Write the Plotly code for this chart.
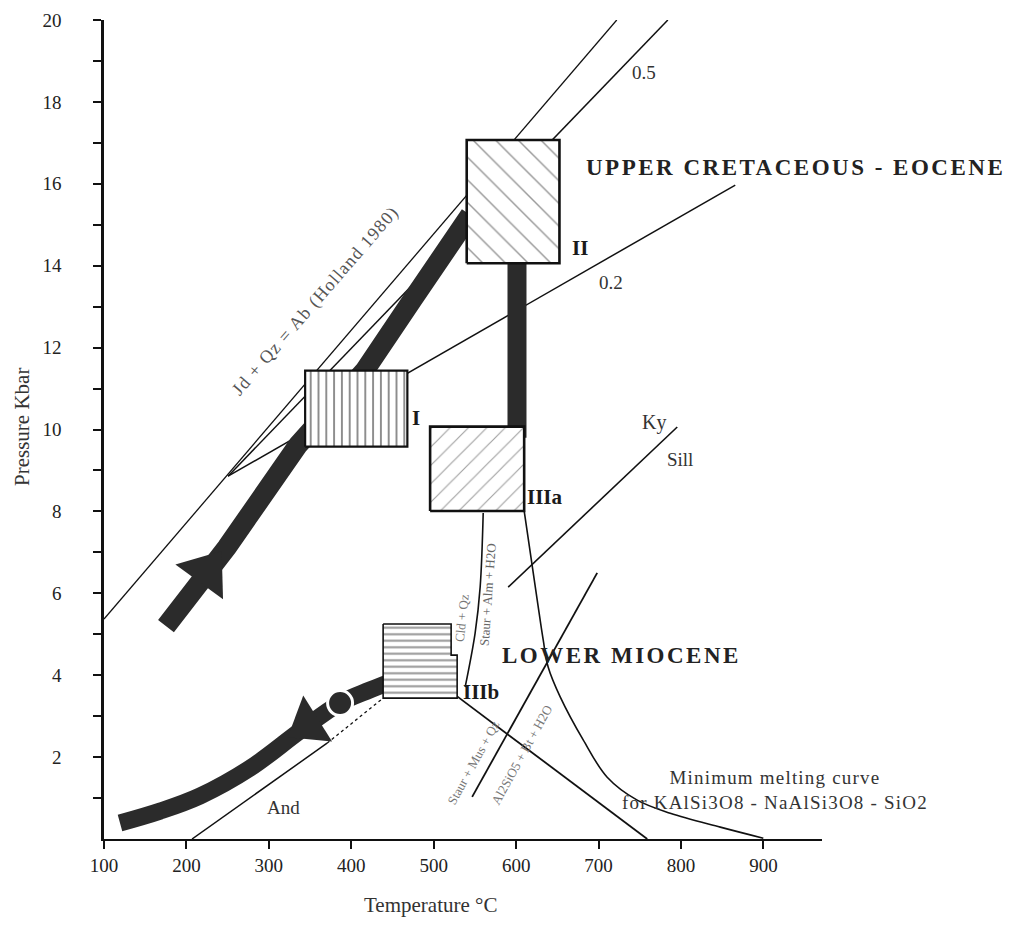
import plotly.graph_objects as go

# ---------------- axis values ----------------
x_tick_vals = [100, 200, 300, 400, 500, 600, 700, 800, 900]
x_tick_text = ["100", "200", "300", "400", "500", "600", "700", "800", "900"]
y_tick_vals = [2, 4, 6, 8, 10, 12, 14, 16, 18, 20]
y_tick_text = ["2", "4", "6", "8", "10", "12", "14", "16", "18", "20"]
y_minor_vals = [1, 3, 5, 7, 9, 11, 13, 15, 17, 19]

# ---------------- reaction / isopleth lines (T degC, P kbar) ----------------
jd_T = [100, 722]
jd_P = [5.37, 20.0]
iso05_T = [250.5, 784]
iso05_P = [8.86, 20.0]
iso02_T = [250.5, 865.8]
iso02_P = [8.86, 15.97]
kysill_T = [590.3, 795.4]
kysill_P = [6.15, 10.06]
andky_T = [206.8, 370.6]
andky_P = [0.0, 2.34]
andky_dot_T = [370.6, 438.6]
andky_dot_P = [2.34, 3.44]
andsill_T = [526.0, 759.0]
andsill_P = [3.52, 0.0]
stout_T = [546.6, 698.3]
stout_P = [1.03, 6.50]
cld_T = [560.0, 556.3, 550.2, 538.1]
cld_P = [7.96, 6.15, 5.03, 3.71]
melt_T = [609.7, 625.5, 632.8, 638.8, 653.4, 681.3, 710.4, 746.8, 786.9, 847.6, 899.8]
melt_P = [8.01, 5.84, 4.86, 4.20, 3.47, 2.42, 1.51, 0.95, 0.63, 0.29, 0.02]

# ---------------- P-T paths ----------------
path_up_T = [175.2, 249.3, 335.4, 416.7, 473.8, 544.2]
path_up_P = [5.20, 7.13, 9.62, 11.45, 13.16, 15.24]
path_decomp_T = [601, 601]
path_decomp_P = [14.5, 9.8]
path_low_T = [459.2, 422.8, 386.4, 337.9, 277.2, 216.5, 168.0, 119.4]
path_low_P = [3.93, 3.64, 3.32, 2.64, 1.73, 1.05, 0.68, 0.39]
arrow_T = [224.6, 347.1]
arrow_P = [6.53, 2.79]
arrow_angle = [36, -122]
dot_T = [386.4]
dot_P = [3.32]

# ---------------- boxes ----------------
boxI_T = [344, 468]
boxI_P = [9.58, 11.44]
boxII_T = [540, 652.5]
boxII_P = [14.06, 17.07]
boxIIIa_T = [495.6, 609.7]
boxIIIa_P = [8.01, 10.07]
boxIIIb_T = [438.6, 521.1, 521.1, 528.4, 528.4, 438.6, 438.6]
boxIIIb_P = [5.25, 5.25, 4.49, 4.49, 3.44, 3.44, 5.25]

SERIF = "Liberation Serif, Times New Roman, serif"
INK = "#111111"
BAND = "#2b2b2b"

fig = go.Figure()


def line(T, P, width=1.5, color=INK, dash="solid", shape="linear"):
    fig.add_trace(go.Scatter(x=T, y=P, mode="lines", hoverinfo="skip",
                             line=dict(color=color, width=width, dash=dash, shape=shape)))


def rect(T, P):
    return [T[0], T[1], T[1], T[0], T[0]], [P[0], P[0], P[1], P[1], P[0]]


def box(T, P, shape, size, solidity, fg, lw):
    fig.add_trace(go.Scatter(x=T, y=P, mode="lines", fill="toself", hoverinfo="skip",
                             fillcolor="white",
                             fillpattern=dict(shape=shape, size=size, solidity=solidity,
                                              fgcolor=fg, bgcolor="white"),
                             line=dict(color=INK, width=lw)))


# thin lines
line(jd_T, jd_P, 1.3)
line(iso05_T, iso05_P, 1.5)
line(iso02_T, iso02_P, 1.5)
line(kysill_T, kysill_P, 1.6)
line(andky_T, andky_P, 1.5)
line(andky_dot_T, andky_dot_P, 1.3, dash="dot")
line(andsill_T, andsill_P, 1.8)
line(stout_T, stout_P, 1.8)
line(cld_T, cld_P, 1.6, shape="spline")
line(melt_T, melt_P, 1.6, shape="spline")

# thick P-T paths
line(path_up_T, path_up_P, 20, BAND)
line(path_decomp_T, path_decomp_P, 19, BAND)
line(path_low_T, path_low_P, 17, BAND, shape="spline")

# boxes
bx, by = rect(boxI_T, boxI_P)
box(bx, by, "|", 7.8, 0.24, "#111", 2.2)
bx, by = rect(boxII_T, boxII_P)
box(bx, by, "\\", 16, 0.09, "#333", 2.6)
bx, by = rect(boxIIIa_T, boxIIIa_P)
box(bx, by, "/", 13, 0.09, "#444", 2.6)
box(boxIIIb_T, boxIIIb_P, "-", 6.5, 0.32, "#333", 1.6)

# arrowheads & dot
fig.add_trace(go.Scatter(x=arrow_T, y=arrow_P, mode="markers", hoverinfo="skip", opacity=1,
                         marker=dict(symbol="triangle-up", size=[51, 47], angle=arrow_angle,
                                     color=BAND, opacity=1, line=dict(width=0))))
fig.add_trace(go.Scatter(x=dot_T, y=dot_P, mode="markers", hoverinfo="skip", opacity=1,
                         marker=dict(symbol="circle", size=25, color=BAND, opacity=1,
                                     line=dict(color="white", width=3))))

ann = []


def text(t, T, P, size=18, color="#1a1a1a", angle=0, xanchor="center", bold=False, spacing=0):
    s = "<b>" + t + "</b>" if bold else t
    if spacing:
        s = '<span style="letter-spacing:%.1fpx">%s</span>' % (spacing, s)
    ann.append(dict(text=s, x=T, y=P, xref="x", yref="y",
                    showarrow=False, textangle=angle, xanchor=xanchor, yanchor="middle",
                    font=dict(family=SERIF, size=size, color=color)))


text("UPPER CRETACEOUS - EOCENE", 682.5, 16.39, 23, xanchor="left", bold=True, color="#222", spacing=2.5)
text("LOWER MIOCENE", 580.6, 4.47, 23, xanchor="left", bold=True, color="#222", spacing=2.5)
text("I", 471.4, 10.28, 21, xanchor="left", bold=True)
text("II", 665.5, 14.43, 21, xanchor="left", bold=True)
text("IIIa", 610.9, 8.35, 21, xanchor="left", bold=True)
text("IIIb", 533.3, 3.59, 21, xanchor="left", bold=True)
text("0.5", 738.3, 18.73, 19, xanchor="left", color="#333")
text("0.2", 698.3, 13.60, 19, xanchor="left", color="#333")
text("Ky", 750.5, 10.18, 20, xanchor="left", color="#333")
text("Sill", 780.8, 9.26, 19, xanchor="left", color="#333")
text("And", 295.4, 0.76, 19, xanchor="left", color="#333")
text("Minimum melting curve<br>for KAlSi3O8 - NaAlSi3O8 - SiO2", 914, 1.20, 19, color="#333", spacing=1.2)
text("Jd + Qz = Ab (Holland 1980)", 357.3, 13.14, 18, color="#555", angle=-49, spacing=1.2)
text("Cld + Qz", 534.5, 5.40, 13, color="#777", angle=-84)
text("Staur + Alm + H2O", 566.0, 5.96, 13, color="#666", angle=-86)
text("Staur + Mus + Qz", 547.8, 1.88, 13, color="#777", angle=-61)
text("Al2SiO5 + Bt + H2O", 606.0, 2.05, 13, color="#777", angle=-61)

# axis titles (paper coords)
ann.append(dict(text="Temperature °C", x=(430 - 104) / 718, y=(839 - 905) / 819,
                xref="paper", yref="paper", showarrow=False, xanchor="center", yanchor="middle",
                font=dict(family=SERIF, size=21, color="#333")))
ann.append(dict(text="Pressure Kbar", x=(22 - 104) / 718, y=(839 - 427) / 819,
                xref="paper", yref="paper", showarrow=False, xanchor="center", yanchor="middle",
                textangle=-90, font=dict(family=SERIF, size=21, color="#333")))

# page body has an 8px margin: shift plot area so it lands at x 104-822, y 20-839
fig.update_layout(
    width=1014, height=928,
    margin=dict(l=96, r=200, t=12, b=97),
    plot_bgcolor="white", paper_bgcolor="white",
    showlegend=False,
    annotations=ann,
    xaxis=dict(range=[100, 971], showgrid=False, zeroline=False, showline=True,
               linecolor=INK, linewidth=2, ticks="outside", ticklen=8, tickwidth=1.5,
               tickcolor=INK, tickmode="array", tickvals=x_tick_vals, ticktext=x_tick_text,
               tickfont=dict(family=SERIF, size=19, color="#222"), automargin=False),
    yaxis=dict(range=[0, 20], showgrid=False, zeroline=False, showline=True,
               linecolor=INK, linewidth=2.5, ticks="outside", ticklen=8, tickwidth=1.5,
               tickcolor=INK, tickmode="array", tickvals=y_tick_vals, ticktext=y_tick_text,
               ticklabelstandoff=28, automargin=False,
               minor=dict(tickmode="array", tickvals=y_minor_vals, ticks="outside",
                          ticklen=8, tickwidth=1.5, tickcolor=INK),
               tickfont=dict(family=SERIF, size=19, color="#222")),
)

fig.write_html("out.html")
